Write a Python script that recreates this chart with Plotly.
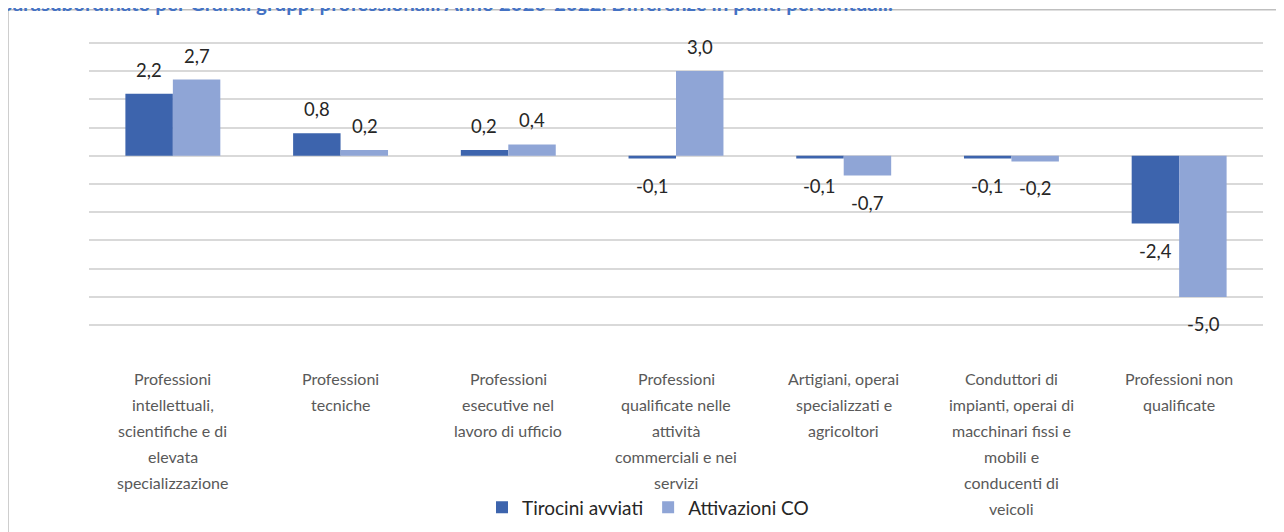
import plotly.graph_objects as go

categories = [
    "Professioni intellettuali, scientifiche e di elevata specializzazione",
    "Professioni tecniche",
    "Professioni esecutive nel lavoro di ufficio",
    "Professioni qualificate nelle attività commerciali e nei servizi",
    "Artigiani, operai specializzati e agricoltori",
    "Conduttori di impianti, operai di macchinari fissi e mobili e conducenti di veicoli",
    "Professioni non qualificate",
]
category_lines = [
    ["Professioni", "intellettuali,", "scientifiche e di", "elevata", "specializzazione"],
    ["Professioni", "tecniche"],
    ["Professioni", "esecutive nel", "lavoro di ufficio"],
    ["Professioni", "qualificate nelle", "attività", "commerciali e nei", "servizi"],
    ["Artigiani, operai", "specializzati e", "agricoltori"],
    ["Conduttori di", "impianti, operai di", "macchinari fissi e", "mobili e", "conducenti di", "veicoli"],
    ["Professioni non", "qualificate"],
]
tirocini = [2.2, 0.8, 0.2, -0.1, -0.1, -0.1, -2.4]
attivazioni = [2.7, 0.2, 0.4, 3.0, -0.7, -0.2, -5.0]
series_names = ["Tirocini avviati", "Attivazioni CO"]
title_text = "parasubordinato per Grandi gruppi professionali. Anno 2020-2022. Differenze in punti percentuali."

W, H = 1284, 532
OFF = 8  # browser body margin
UNIT = 28.22  # px per 1.0 on the y axis
PAD = 0.1     # axis padding so the end gridlines are drawn
# plot area in page pixels
PL, PR = 89, 1263
PT, PB = 43 - PAD * UNIT, 325 + PAD * UNIT
ML, MT = PL - OFF, PT - OFF
MR, MB = W - (PR - OFF), H - (PB - OFF)
PW, PH = PR - PL, PB - PT

def px_x(px):
    return (px - PL) / PW

def px_y(py):
    return (PB - py) / PH

dark = "#3D64AD"
light = "#8FA5D6"
FONT = "Lato"

fig = go.Figure()
fig.add_trace(go.Bar(x=categories, y=tirocini, name=series_names[0], marker=dict(color=dark, line=dict(width=0))))
fig.add_trace(go.Bar(x=categories, y=attivazioni, name=series_names[1], marker=dict(color=light, line=dict(width=0))))

annotations = []
for vals, shift in ((tirocini, -24), (attivazioni, 24)):
    for c, v in zip(categories, vals):
        annotations.append(dict(
            x=c, y=v, xref="x", yref="y", xshift=shift,
            yshift=24 if v >= 0 else -27,
            text=f"{v:.1f}".replace(".", ","), showarrow=False,
            font=dict(family=FONT, size=18.5, color="#262626"),
            xanchor="center", yanchor="middle",
        ))
for c, lines in zip(categories, category_lines):
    for k, line in enumerate(lines):
        annotations.append(dict(
            x=c, y=0, xref="x", yref="paper", yshift=-(378 - PB) - 26 * k,
            text=line, showarrow=False,
            font=dict(family=FONT, size=16, color="#595959"),
            xanchor="center", yanchor="middle",
        ))
annotations.append(dict(
    x=px_x(-1), y=px_y(17), xref="paper", yref="paper", text="<b>" + title_text + "</b>",
    showarrow=False, xanchor="left", yanchor="bottom",
    font=dict(family=FONT, size=20.5, color="#4472C4"),
))

fig.update_layout(
    width=W, height=H,
    margin=dict(l=ML, r=MR, t=MT, b=MB, pad=0),
    paper_bgcolor="white", plot_bgcolor="white",
    barmode="group", bargap=0.434, bargroupgap=0,
    separators=",.",
    showlegend=True,
    legend=dict(orientation="h", x=px_x(648), xanchor="center", y=px_y(507), yanchor="middle",
                font=dict(family=FONT, size=19, color="#262626"), traceorder="normal"),
    xaxis=dict(showticklabels=False, showgrid=False, zeroline=False, showline=False, ticks=""),
    yaxis=dict(range=[-6 - PAD, 4 + PAD], tickvals=list(range(-6, 5)), showticklabels=False,
               showgrid=True, gridcolor="#D9D9D9", gridwidth=1.5, zeroline=True,
               zerolinecolor="#D9D9D9", zerolinewidth=1.5, showline=False, ticks=""),
    annotations=annotations,
    shapes=[dict(type="rect", xref="paper", yref="paper", x0=px_x(8), x1=px_x(1300),
                 y0=px_y(560), y1=px_y(10), line=dict(color="#BFBFBF", width=1.5), layer="below")],
)

fig.write_html("out.html")
